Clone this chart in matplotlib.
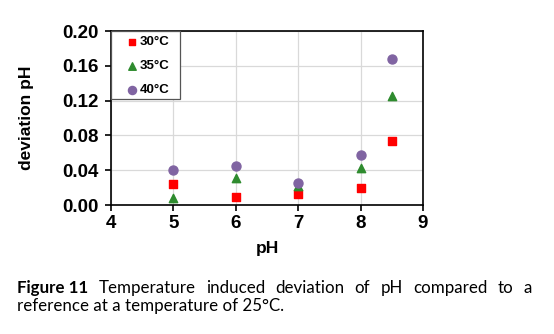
import matplotlib
matplotlib.use('Agg')
import matplotlib.pyplot as plt
from matplotlib.patches import Rectangle

ph = [5, 6, 7, 8, 8.5]
dev_30 = [0.024, 0.009, 0.013, 0.019, 0.074]
dev_35 = [0.008, 0.031, 0.022, 0.043, 0.125]
dev_40 = [0.040, 0.045, 0.025, 0.057, 0.168]
labels = ['30°C', '35°C', '40°C']

plt.rcParams['font.family'] = ['Liberation Sans', 'DejaVu Sans']

fig = plt.figure(figsize=(5.54, 3.34), dpi=100)
W, H = 554, 334
ax = fig.add_axes([111 / W, 1 - 205 / H, (423 - 111) / W, (205 - 31) / H])

ax.scatter(ph, dev_30, marker='s', s=30, color='#ff0000', label=labels[0], zorder=3)
ax.scatter(ph, dev_35, marker='^', s=36, color='#2e8b2e', label=labels[1], zorder=3)
ax.scatter(ph, dev_40, marker='o', s=42, color='#8064a2', label=labels[2], zorder=3)

ax.set_xlim(4, 9)
ax.set_ylim(0, 0.20)
ax.set_xticks([4, 5, 6, 7, 8, 9])
ax.set_yticks([0, 0.04, 0.08, 0.12, 0.16, 0.20])
ax.set_yticklabels(['%.2f' % v for v in ax.get_yticks()])
ax.grid(True, color='#d9d9d9', linewidth=0.9, zorder=0)
ax.set_axisbelow(True)
for s in ax.spines.values():
    s.set_linewidth(1.2)
ax.tick_params(direction='out', length=4, width=1.2, labelsize=13.5, pad=3)
ax.tick_params(axis='y', pad=5)
for t in ax.get_xticklabels() + ax.get_yticklabels():
    t.set_fontweight('bold')
ax.set_xlabel('pH', fontsize=12.5, fontweight='bold', labelpad=7)
ax.set_ylabel('deviation pH', fontsize=12.5, fontweight='bold', labelpad=20)

# legend box drawn separately so the padding can differ in x and y
box_y = (205 - 99) / 174
ax.add_patch(Rectangle((0, box_y), (180 - 111) / 312, 1 - box_y, transform=ax.transAxes,
                       facecolor='white', edgecolor='#555555', linewidth=0.9,
                       zorder=4, clip_on=False))
leg = ax.legend(loc='upper left', bbox_to_anchor=((125 - 111) / 312, (205 - 36) / 174),
                prop={'weight': 'bold', 'size': 9.5}, frameon=False, borderpad=0,
                borderaxespad=0, handletextpad=0.1, labelspacing=0.9,
                handlelength=1.0, markerscale=0.9)
leg.set_zorder(5)

# justified caption, first line
cap_font = ['Lato', 'DejaVu Sans']
cap_size = 12.2
words = ['Temperature', 'induced', 'deviation', 'of', 'pH', 'compared', 'to', 'a']
x0, x1 = 17, 532
y1 = 1 - 288 / H
fig.canvas.draw()
r = fig.canvas.get_renderer()
items = [fig.text(x0 / W, y1, 'Figure 11', fontsize=cap_size, fontweight='bold',
                  family=cap_font, va='center')]
for w in words:
    items.append(fig.text(0, y1, w, fontsize=cap_size, family=cap_font, va='center'))
widths = [t.get_window_extent(r).width for t in items]
gap = ((x1 - x0) - sum(widths)) / (len(items) - 1)
x = x0
for t, wd in zip(items, widths):
    t.set_x(x / W)
    x += wd + gap
fig.text(x0 / W, 1 - 306 / H, 'reference at a temperature of 25°C.', fontsize=cap_size,
         family=cap_font, va='center')

fig.savefig('out.png', dpi=100)
